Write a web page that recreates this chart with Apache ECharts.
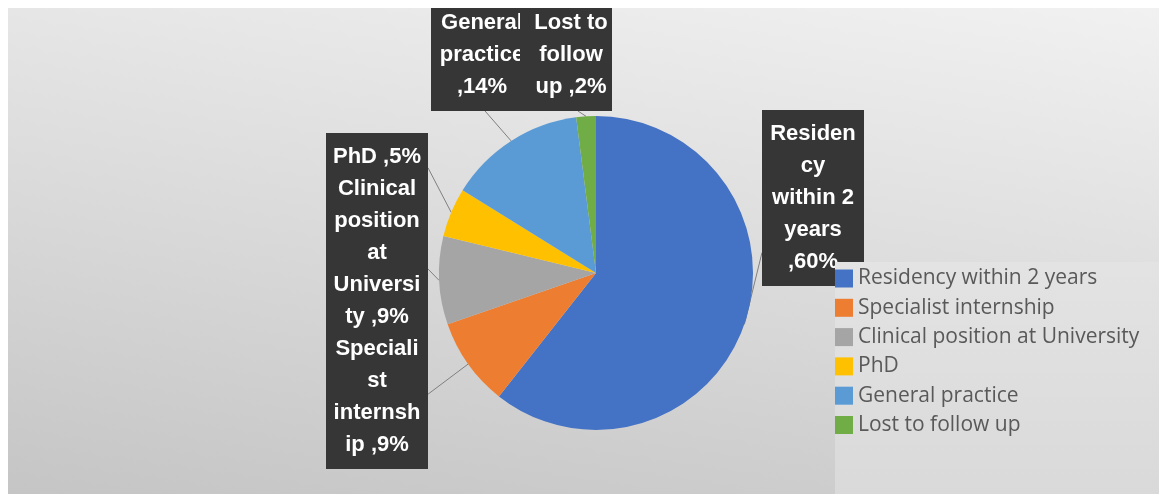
<!DOCTYPE html>
<html><head><meta charset="utf-8">
<script src="https://cdn.jsdelivr.net/npm/echarts@6/dist/echarts.min.js"></script>
<style>html,body{margin:0;padding:0;background:#fff;overflow:hidden;}
#c{position:absolute;left:8px;top:8px;width:1151px;height:486px;background:linear-gradient(188deg,#f1f1f1 0%,#c5c5c5 100%);}</style>
</head><body><div id="c"></div>
<script>
const categories = ['Residency within 2 years','Specialist internship','Clinical position at University','PhD','General practice','Lost to follow up'];
const values = [60, 9, 9, 5, 14, 2];
const colors = ['#4472C4','#ED7D31','#A5A5A5','#FFC000','#5B9BD5','#70AD47'];

// label box placement in chart px: [box centre x, box top y]
const labelPlacement = [[805,102],[369,325],[369,165],[369,125],[474,-9],[558,-9]];
// where each leader line meets its box: fraction of box width / height
const lineTarget = [[0,0.81],[1,0.45],[1,0.6],[1,0.87],[0.53,1],[0.63,1]];
// label text width (px) and padding
const labelWidth = [90, 90, 90, 90, 90, 78];
const labelPad = [[8,6,8,6],[0,6,8,6],[0,6,0,6],[8,6,0,6],[8,6,8,6],[8,2,8,12]];

const FONT = 'bold 22px "Liberation Sans", Arial, sans-serif';
const mctx = document.createElement('canvas').getContext('2d');
mctx.font = FONT;
const tw = s => mctx.measureText(s).width;
function wrap(text, maxW) {
  const words = text.split(' ');
  const lines = [];
  let line = '';
  for (const w of words) {
    if (line && tw(line + ' ' + w) <= maxW) { line += ' ' + w; continue; }
    if (line) lines.push(line);
    let rest = w;
    while (tw(rest) > maxW && rest.length > 1) {
      let k = rest.length - 1;
      while (k > 1 && tw(rest.slice(0, k)) > maxW) k--;
      lines.push(rest.slice(0, k));
      rest = rest.slice(k);
    }
    line = rest;
  }
  if (line) lines.push(line);
  return lines.join('\n');
}

const chart = echarts.init(document.getElementById('c'), null, {renderer:'canvas'});
const data = categories.map((n, i) => ({
  name: n, value: values[i], itemStyle: {color: colors[i]},
  label: {width: labelWidth[i], padding: labelPad[i]}
}));
chart.setOption({
  animation: false,
  backgroundColor: 'transparent',
  graphic: [{type:'rect', z: 10, shape:{x:827, y:254, width:330, height:240},
    style:{fill:{type:'linear', x:0, y:0, x2:0, y2:1, colorStops:[{offset:0,color:'#e3e3e3'},{offset:1,color:'#d9d9d9'}]}}}],
  legend: {
    orient: 'vertical', left: 827, top: 260, padding: 0, z: 11,
    itemWidth: 18, itemHeight: 18, itemGap: 8.3, icon: 'rect', selectedMode: false,
    textStyle: {fontFamily: 'Open Sans', fontSize: 21, color: '#595959', lineHeight: 21},
    data: categories
  },
  series: [{
    type: 'pie', center: [588, 265], radius: 157, startAngle: 90, clockwise: true,
    avoidLabelOverlap: false, data: data,
    label: {
      show: true, position: 'outside', color: '#ffffff', fontFamily: '"Liberation Sans", Arial, sans-serif',
      fontWeight: 'bold', fontSize: 22, lineHeight: 32, align: 'center',
      backgroundColor: '#363636',
      formatter: p => wrap(p.name + ' ,' + p.value + '%', labelWidth[p.dataIndex])
    },
    labelLine: {show: true, length: 10, length2: 10, lineStyle: {color: '#7f7f7f', width: 1}},
    labelLayout: function (params) {
      const i = params.dataIndex;
      const p = labelPlacement[i];
      const r = params.labelRect;
      const left = p[0] - r.width / 2;
      const anchor = params.labelLinePoints[0];
      const tgt = [left + lineTarget[i][0] * r.width, p[1] + lineTarget[i][1] * r.height];
      return {x: p[0], y: p[1], align: 'center', verticalAlign: 'top', hideOverlap: false,
              labelLinePoints: [anchor, tgt]};
    },
    emphasis: {disabled: true}
  }]
});
</script></body></html>
